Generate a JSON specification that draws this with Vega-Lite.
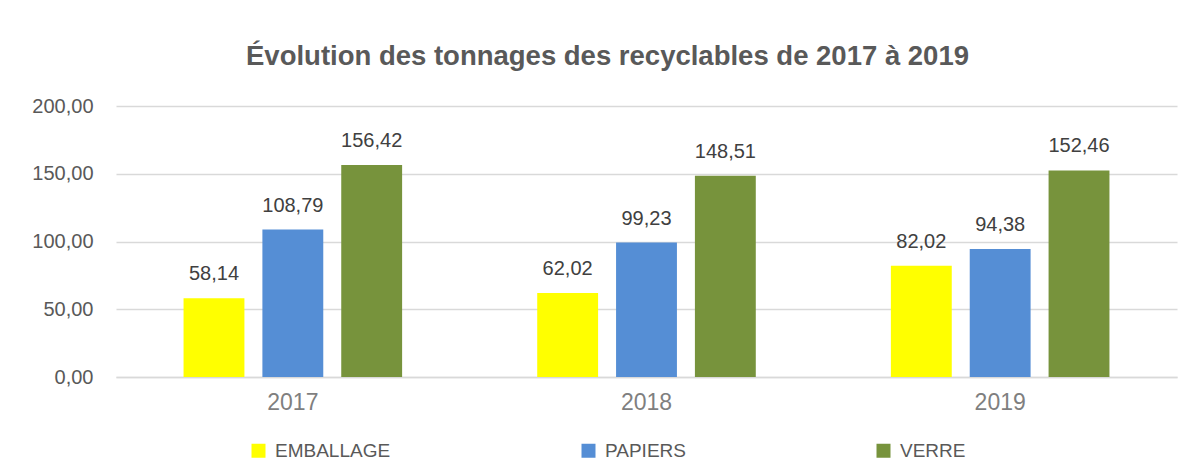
{
  "$schema": "https://vega.github.io/schema/vega-lite/v6.json",
  "width": 1061,
  "height": 271,
  "autosize": {"type": "none"},
  "padding": {"left": 116, "top": 106, "right": 18, "bottom": 85},
  "background": "white",
  "config": {
    "locale": {"number": {"decimal": ",", "thousands": " ", "grouping": [3], "currency": ["", " €"]}},
    "view": {"stroke": null},
    "font": "Liberation Sans"
  },
  "title": {
    "text": "Évolution des tonnages des recyclables de 2017 à 2019",
    "fontSize": 27.5,
    "fontWeight": "bold",
    "color": "#595959",
    "anchor": "middle",
    "dx": -39,
    "offset": 26,
    "font": "Liberation Sans"
  },
  "data": {
    "values": [
      {"year": "2017", "type": "EMBALLAGE", "value": 58.14},
      {"year": "2017", "type": "PAPIERS", "value": 108.79},
      {"year": "2017", "type": "VERRE", "value": 156.42},
      {"year": "2018", "type": "EMBALLAGE", "value": 62.02},
      {"year": "2018", "type": "PAPIERS", "value": 99.23},
      {"year": "2018", "type": "VERRE", "value": 148.51},
      {"year": "2019", "type": "EMBALLAGE", "value": 82.02},
      {"year": "2019", "type": "PAPIERS", "value": 94.38},
      {"year": "2019", "type": "VERRE", "value": 152.46}
    ]
  },
  "encoding": {
    "x": {
      "field": "year",
      "type": "nominal",
      "scale": {"paddingInner": 0.382, "paddingOuter": 0.191},
      "axis": {
        "title": null,
        "labelAngle": 0,
        "labelFontSize": 23,
        "labelColor": "#7f7f7f",
        "ticks": false,
        "domainColor": "#d9d9d9",
        "domainWidth": 1.5,
        "labelPadding": 14
      }
    },
    "xOffset": {
      "field": "type",
      "sort": ["EMBALLAGE", "PAPIERS", "VERRE"],
      "scale": {"paddingInner": 0.228, "paddingOuter": 0}
    },
    "y": {
      "field": "value",
      "type": "quantitative",
      "scale": {"domain": [0, 200]},
      "axis": {
        "title": null,
        "values": [0, 50, 100, 150, 200],
        "format": ".2f",
        "labelFontSize": 20,
        "labelColor": "#595959",
        "ticks": false,
        "domain": false,
        "gridColor": "#d9d9d9",
        "gridWidth": 1.5,
        "labelPadding": 23
      }
    }
  },
  "layer": [
    {
      "mark": {"type": "bar"},
      "encoding": {
        "color": {
          "field": "type",
          "type": "nominal",
          "scale": {
            "domain": ["EMBALLAGE", "PAPIERS", "VERRE"],
            "range": ["#FFFF00", "#558ED5", "#77933C"]
          },
          "legend": {
            "title": null,
            "orient": "none",
            "legendX": 133,
            "legendY": 335,
            "direction": "horizontal",
            "symbolType": "square",
            "symbolSize": 196,
            "symbolStrokeWidth": 0,
            "labelFontSize": 19,
            "labelColor": "#595959",
            "columnPadding": 188,
            "labelOffset": 7,
            "padding": 0
          }
        }
      }
    },
    {
      "mark": {"type": "text", "baseline": "alphabetic", "dy": -18, "fontSize": 20, "color": "#404040"},
      "encoding": {
        "text": {"field": "value", "type": "quantitative", "format": ".2f"}
      }
    }
  ]
}
